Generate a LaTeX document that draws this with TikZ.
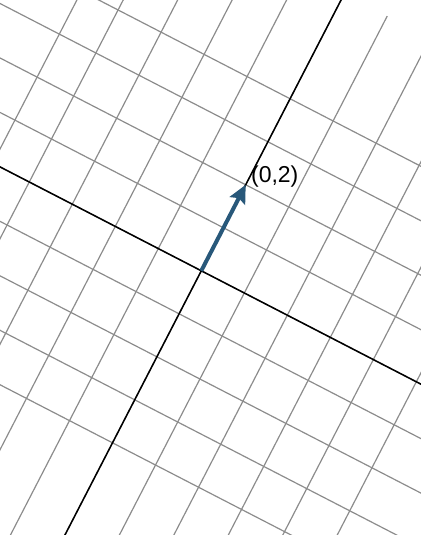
\documentclass[tikz,border=0pt]{standalone}
\usepackage{fontspec}
\setmainfont{Liberation Sans}
\usetikzlibrary{arrows.meta}
\definecolor{gridgray}{RGB}{140,140,140}
\definecolor{vecblue}{RGB}{40,88,122}

\begin{document}
\begin{tikzpicture}[x=0.5pt, y=0.5pt,
    gridline/.style={gridgray, line width=0.6pt},
    axisline/.style={black, line width=0.75pt},
    vec/.style={vecblue, line width=2pt, -{Stealth[length=9pt, width=8.5pt, inset=1.5pt]}}]
  \useasboundingbox (0,0) rectangle (421,535);
  \clip (0,0) rectangle (421,535);
  % rotated plane, origin at (201.3,264.2)
  \begin{scope}[shift={(201.3,264.2)}, rotate=-27.3, x=24.2pt, y=24.2pt]
    \foreach \j in {-4,...,4} \draw[gridline] (-12,\j) -- (12,\j);
    \foreach \i in {-4.85,-4,-3,...,5} \draw[gridline] (\i,-9) -- (\i,6.44);
    \draw[axisline] (-12,0) -- (12,0);
    \draw[axisline] (0,-9) -- (0,6.44);
    \coordinate (O) at (0,0);
    \coordinate (v) at (0,2);
  \end{scope}
  \draw[vec] (O) -- (v);
  \node[anchor=south west, inner sep=0pt, xshift=2.5pt, yshift=-1.5pt, font=\fontsize{11.5}{13}\selectfont] (vlabel) at (v) {(0,2)};
\end{tikzpicture}
\end{document}
